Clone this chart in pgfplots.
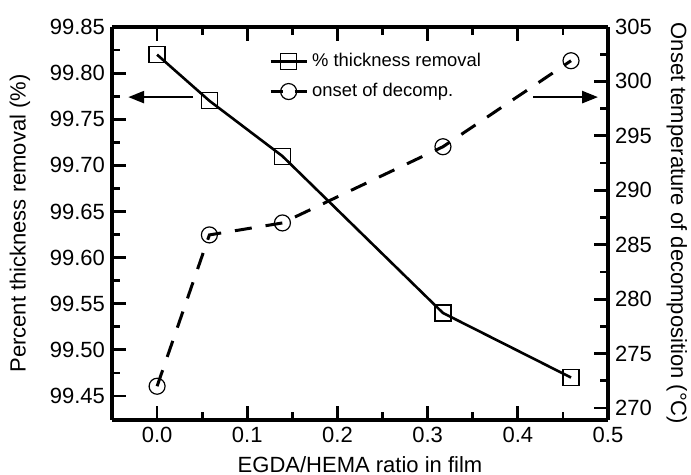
\documentclass[border=0pt]{standalone}
\usepackage{fontspec}
\setmainfont{Liberation Sans}
\usepackage{pgfplots}
\pgfplotsset{compat=1.18}
\usetikzlibrary{arrows.meta}

% EGDA/HEMA ratio vs. thickness removal and onset temperature
\pgfplotstableread{
x      y
0.000  99.82
0.058  99.77
0.139  99.71
0.317  99.54
0.459  99.47
}\thickness
\pgfplotstableread{
x      y
0.000  272.0
0.058  285.9
0.139  287.0
0.317  294.0
0.459  301.9
}\onset

\pgfplotsset{
  common/.style={
    width=248pt, height=196.5pt, scale only axis,
    xmin=-0.05, xmax=0.5,
    tick align=inside,
    major tick length=7pt, minor tick length=4pt,
    every tick/.style={black, line width=1.4pt},
    axis line style={line width=1.6pt},
    tick label style={font=\fontsize{11}{12}\selectfont},
    label style={font=\fontsize{11}{12}\selectfont},
    /pgf/number format/assume math mode=true,
  },
}

\begin{document}
\begin{tikzpicture}
\begin{axis}[
  common,
  axis y line*=left,
  ymin=99.424, ymax=99.85,
  xtick={0,0.1,0.2,0.3,0.4,0.5},
  minor x tick num=1,
  ytick={99.45,99.50,99.55,99.60,99.65,99.70,99.75,99.80,99.85},
  minor y tick num=1,
  xticklabel style={/pgf/number format/.cd, fixed, fixed zerofill, precision=1},
  yticklabel style={/pgf/number format/.cd, fixed, fixed zerofill, precision=2},
  xlabel={EGDA/HEMA ratio in film},
  ylabel={Percent thickness removal (\%)},
  xlabel style={yshift=0pt},
  ylabel style={yshift=3pt},
  legend style={at={(0.312,0.95)}, anchor=north west, draw=none, fill=none,
    font=\fontsize{9.2}{10}\selectfont, row sep=3pt, inner sep=1pt,
    /tikz/every even column/.style={column sep=1pt}},
  legend cell align=left,
  legend image code/.code={\draw[#1, mark repeat=2, mark phase=2]
    plot coordinates {(0pt,0pt) (9pt,0pt) (18pt,0pt)};},
]
\addplot[black, line width=1.3pt, mark=square, mark size=4pt,
  mark options={solid, line width=0.6pt}] table[x=x, y=y] {\thickness};
\addlegendentry{\% thickness removal}
\addlegendimage{black, line width=1.5pt, dash pattern=on 6pt off 6pt,
  mark=o, mark size=4pt, mark options={solid, line width=0.6pt}}
\addlegendentry{onset of decomp.}
\draw[-{Triangle[length=8pt, width=6pt]}, line width=1.3pt]
  (axis cs:0.040,99.774) -- (axis cs:-0.032,99.774);
\draw[-{Triangle[length=8pt, width=6pt]}, line width=1.3pt]
  (axis cs:0.417,99.774) -- (axis cs:0.489,99.774);
\end{axis}

\begin{axis}[
  common,
  axis y line*=right,
  axis x line=none,
  ymin=268.9, ymax=305,
  ytick={270,275,280,285,290,295,300,305},
  minor y tick num=1,
  ylabel={Onset temperature of decomposition (°C)},
  ylabel style={rotate=180, yshift=0.5pt},
]
\addplot[black, line width=1.5pt, dash pattern=on 8.5pt off 7pt,
  mark=o, mark size=4pt, mark options={solid, line width=0.6pt}]
  table[x=x, y=y] {\onset};
\end{axis}
\pgfresetboundingbox
\path (-56pt,-27.5pt) rectangle (289.5pt,210pt);
\end{tikzpicture}
\end{document}
